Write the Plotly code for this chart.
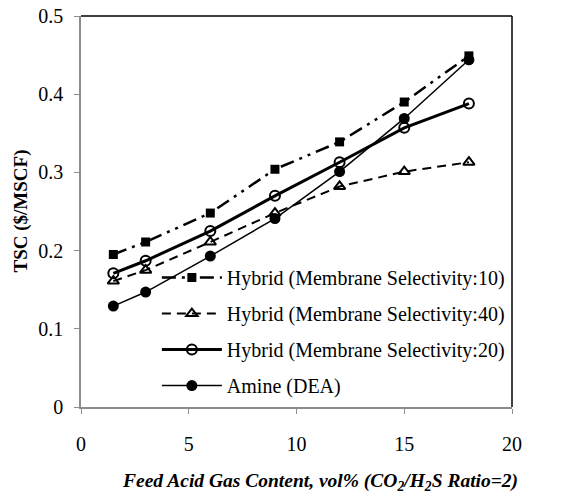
import plotly.graph_objects as go

# Feed acid gas content (vol%) and total sweetening cost ($/MSCF)
acid_gas = [1.5, 3, 6, 9, 12, 15, 18]
tsc_sel10 = [0.195, 0.211, 0.248, 0.304, 0.339, 0.390, 0.449]
tsc_sel40 = [0.161, 0.175, 0.211, 0.248, 0.282, 0.301, 0.313]
tsc_sel20 = [0.171, 0.187, 0.225, 0.270, 0.313, 0.357, 0.388]
tsc_amine = [0.129, 0.147, 0.193, 0.241, 0.301, 0.369, 0.444]

names = [
    "Hybrid (Membrane Selectivity:10)",
    "Hybrid (Membrane Selectivity:40)",
    "Hybrid (Membrane Selectivity:20)",
    "Amine (DEA)",
]
x_ticks = [0, 5, 10, 15, 20]
y_ticks = [0, 0.1, 0.2, 0.3, 0.4, 0.5]
x_title = "<b><i>Feed Acid Gas Content, vol% (CO<sub>2</sub>/H<sub>2</sub>S Ratio=2)</i></b>"
y_title = "<b>TSC ($/MSCF)</b>"

serif = "Liberation Serif"

fig = go.Figure()
fig.add_trace(go.Scatter(
    x=acid_gas, y=tsc_sel10, name=names[0], mode="lines+markers", legendgroup="g1",
    line=dict(color="black", width=2.5, dash="14px,6px,3px,6px,3px,6px"),
    marker=dict(symbol="square", size=9, color="black"),
))
fig.add_trace(go.Scatter(
    x=acid_gas, y=tsc_sel40, name=names[1], mode="lines+markers", legendgroup="g2",
    line=dict(color="black", width=2, dash="9px,6px"),
    marker=dict(symbol="triangle-up-open", size=10, color="black",
                line=dict(width=2, color="black")),
))
fig.add_trace(go.Scatter(
    x=acid_gas, y=tsc_sel20, name=names[2], mode="lines+markers", legendgroup="g3",
    line=dict(color="black", width=3),
    marker=dict(symbol="circle-open", size=10, color="black",
                line=dict(width=2, color="black")),
))
fig.add_trace(go.Scatter(
    x=acid_gas, y=tsc_amine, name=names[3], mode="lines+markers", legendgroup="g4",
    line=dict(color="black", width=1.5),
    marker=dict(symbol="circle", size=11, color="black"),
))

axis_gray = "#8c8c8c"
fig.update_layout(
    width=561, height=493,
    margin=dict(l=81, r=49, t=16, b=86),
    paper_bgcolor="white", plot_bgcolor="white",
    font=dict(family=serif, size=20, color="black"),
    showlegend=True,
    legend=dict(
        x=0.176, y=0.381, xanchor="left", yanchor="top",
        bgcolor="rgba(255,255,255,0)", borderwidth=0,
        font=dict(family=serif, size=20, color="black"),
        tracegroupgap=7, itemwidth=60,
    ),
    xaxis=dict(
        range=[0, 20], tickvals=x_ticks, ticks="outside", ticklen=5,
        tickcolor=axis_gray, showline=True, linecolor=axis_gray, linewidth=1.5,
        showgrid=False, zeroline=False, ticklabelstandoff=13, automargin=False,
        tickfont=dict(family=serif, size=20),
    ),
    yaxis=dict(
        range=[0, 0.5], tickvals=y_ticks, ticktext=["0", "0.1", "0.2", "0.3", "0.4", "0.5"],
        ticks="outside", ticklen=5,
        tickcolor=axis_gray, showline=True, linecolor=axis_gray, linewidth=1.5,
        showgrid=False, zeroline=False, ticklabelstandoff=7, automargin=False,
        tickfont=dict(family=serif, size=20),
    ),
)

# Axis titles
fig.add_annotation(text=x_title, xref="paper", yref="paper", x=0.555, y=0,
                   yshift=-75, xanchor="center", yanchor="middle", showarrow=False,
                   font=dict(family=serif, size=19.5, color="black"))
fig.add_annotation(text=y_title, xref="paper", yref="paper", x=0, y=0.5,
                   xshift=-61, xanchor="center", yanchor="middle", textangle=-90,
                   showarrow=False, font=dict(family=serif, size=19, color="black"))

# Black frame on the top and right sides of the plot area
fig.add_shape(type="line", xref="paper", yref="paper", x0=0, x1=1, y0=1, y1=1,
              line=dict(color="black", width=1.5))
fig.add_shape(type="line", xref="paper", yref="paper", x0=1, x1=1, y0=0, y1=1,
              line=dict(color="black", width=1.5))

fig.write_html("out.html")
